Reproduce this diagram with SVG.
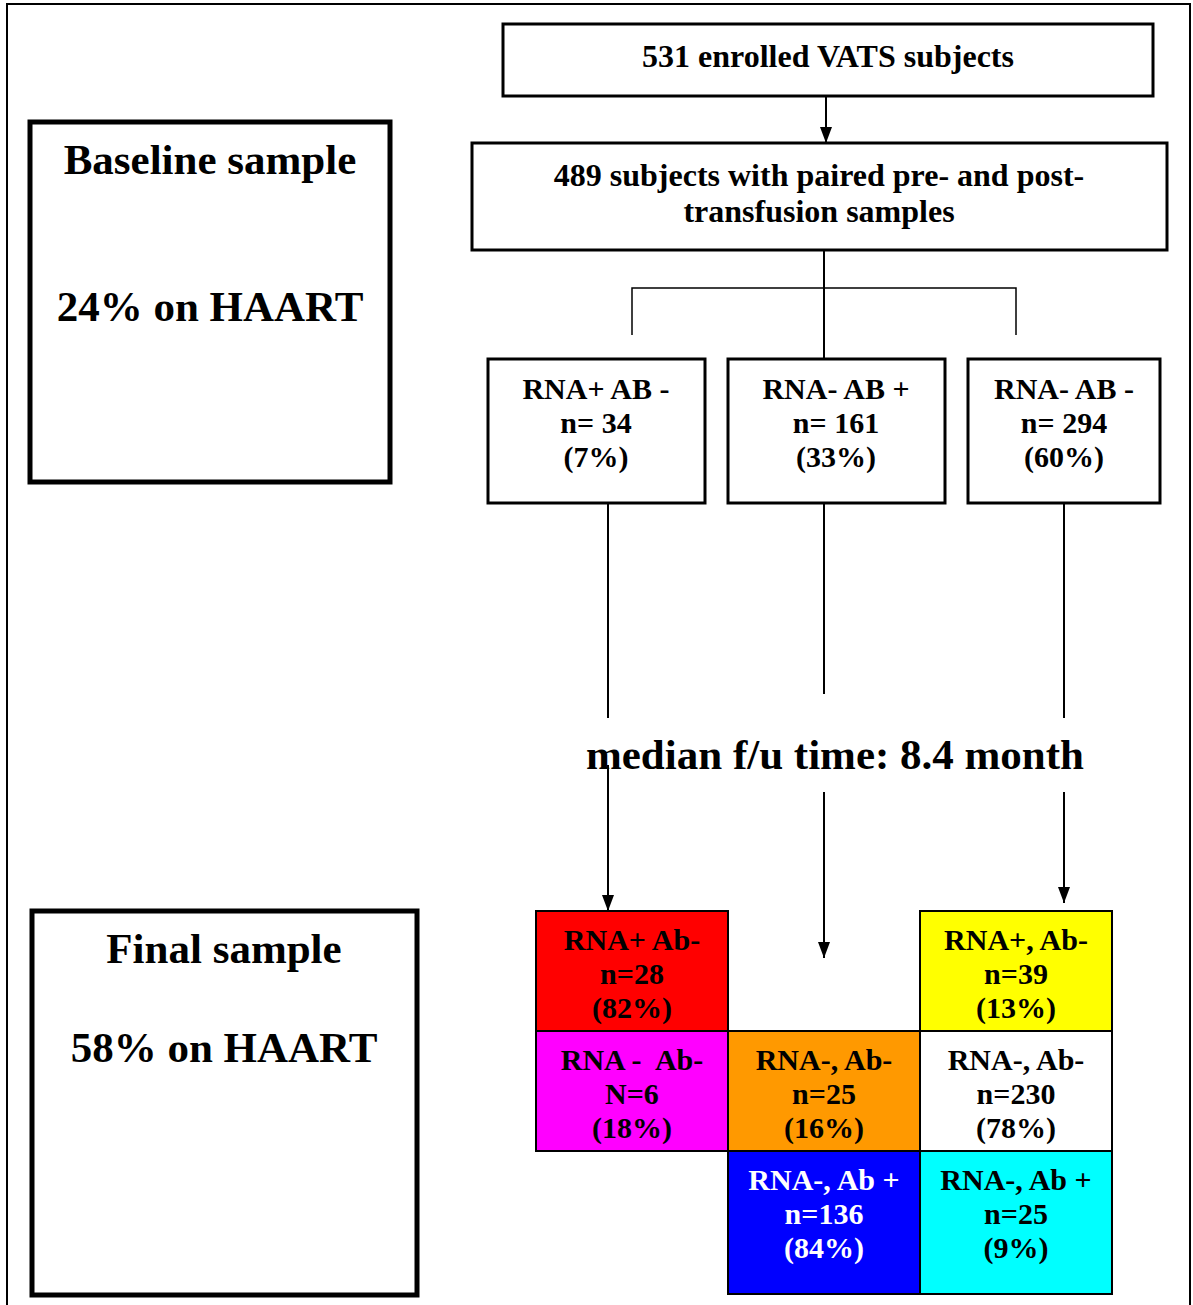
<svg xmlns="http://www.w3.org/2000/svg" width="1193" height="1305" viewBox="0 0 1193 1305">
<style>
text{font-family:"Liberation Serif","Times New Roman",serif;font-weight:bold;text-anchor:middle;fill:#000}
.box{fill:#fff;stroke:#000;stroke-width:3}
.big{fill:#fff;stroke:#000;stroke-width:5}
.cell{stroke:#000;stroke-width:2}
.t30{font-size:30px}
.t32{font-size:32px}
.t43{font-size:43px}
.ln{stroke:#000;stroke-width:2;fill:none}
.wt{fill:#fff}
</style>
<defs>
<marker id="ah" markerWidth="16" markerHeight="12" refX="16" refY="6" orient="auto" markerUnits="userSpaceOnUse" viewBox="0 0 16 12">
<path d="M0,0 L16,6 L0,12 Z" fill="#000"/>
</marker>
</defs>
<rect x="0" y="0" width="1193" height="1305" fill="#fff"/>
<rect x="7" y="4" width="1183" height="1310" fill="none" stroke="#000" stroke-width="2"/>

<g id="baseline">
<rect class="big" x="30" y="122" width="360" height="360"/>
<text class="t43" x="210" y="174">Baseline sample</text>
<text class="t43" x="210" y="321">24% on HAART</text>
</g>
<g id="final">
<rect class="big" x="32" y="911" width="385" height="384"/>
<text class="t43" x="224" y="963">Final sample</text>
<text class="t43" x="224" y="1062">58% on HAART</text>
</g>

<g id="enrolled">
<rect class="box" x="503" y="24" width="650" height="72"/>
<text class="t32" x="828" y="67">531 enrolled VATS subjects</text>
</g>
<g id="paired">
<rect class="box" x="472" y="143" width="695" height="107"/>
<text class="t32" x="819" y="186">489 subjects with paired pre- and post-</text>
<text class="t32" x="819" y="222">transfusion samples</text>
</g>

<g id="b1">
<rect class="box" x="488" y="359" width="217" height="144"/>
<text class="t30" x="596" y="399">RNA+ AB -</text>
<text class="t30" x="596" y="433">n= 34</text>
<text class="t30" x="596" y="467">(7%)</text>
</g>
<g id="b2">
<rect class="box" x="728" y="359" width="217" height="144"/>
<text class="t30" x="836" y="399">RNA- AB +</text>
<text class="t30" x="836" y="433">n= 161</text>
<text class="t30" x="836" y="467">(33%)</text>
</g>
<g id="b3">
<rect class="box" x="968" y="359" width="192" height="144"/>
<text class="t30" x="1064" y="399">RNA- AB -</text>
<text class="t30" x="1064" y="433">n= 294</text>
<text class="t30" x="1064" y="467">(60%)</text>
</g>

<g id="followup">
<text class="t43" x="835" y="769">median f/u time: 8.4 month</text>
</g>

<g id="connectors">
<line class="ln" x1="826" y1="96" x2="826" y2="143" marker-end="url(#ah)"/>
<line class="ln" x1="824" y1="250" x2="824" y2="359"/>
<polyline class="ln" points="632,335 632,288 1016,288 1016,335" style="stroke-width:1.5"/>
<line class="ln" x1="608" y1="503" x2="608" y2="718"/>
<line class="ln" x1="824" y1="503" x2="824" y2="694"/>
<line class="ln" x1="1064" y1="503" x2="1064" y2="718"/>
<line class="ln" x1="608" y1="765" x2="608" y2="911" marker-end="url(#ah)"/>
<line class="ln" x1="824" y1="792" x2="824" y2="958" marker-end="url(#ah)"/>
<line class="ln" x1="1064" y1="792" x2="1064" y2="903" marker-end="url(#ah)"/>
</g>

<g id="c-red">
<rect class="cell" x="536" y="911" width="192" height="120" fill="#ff0000"/>
<text class="t30" x="632" y="950">RNA+ Ab-</text>
<text class="t30" x="632" y="984">n=28</text>
<text class="t30" x="632" y="1018">(82%)</text>
</g>
<g id="c-yellow">
<rect class="cell" x="920" y="911" width="192" height="120" fill="#ffff00"/>
<text class="t30" x="1016" y="950">RNA+, Ab-</text>
<text class="t30" x="1016" y="984">n=39</text>
<text class="t30" x="1016" y="1018">(13%)</text>
</g>
<g id="c-magenta">
<rect class="cell" x="536" y="1031" width="192" height="120" fill="#ff00ff"/>
<text class="t30" x="632" y="1070" xml:space="preserve">RNA -  Ab-</text>
<text class="t30" x="632" y="1104">N=6</text>
<text class="t30" x="632" y="1138">(18%)</text>
</g>
<g id="c-orange">
<rect class="cell" x="728" y="1031" width="192" height="120" fill="#ff9900"/>
<text class="t30" x="824" y="1070">RNA-, Ab-</text>
<text class="t30" x="824" y="1104">n=25</text>
<text class="t30" x="824" y="1138">(16%)</text>
</g>
<g id="c-white">
<rect class="cell" x="920" y="1031" width="192" height="120" fill="#ffffff"/>
<text class="t30" x="1016" y="1070">RNA-, Ab-</text>
<text class="t30" x="1016" y="1104">n=230</text>
<text class="t30" x="1016" y="1138">(78%)</text>
</g>
<g id="c-blue">
<rect class="cell" x="728" y="1151" width="192" height="143" fill="#0000ff"/>
<text class="t30 wt" x="824" y="1190">RNA-, Ab +</text>
<text class="t30 wt" x="824" y="1224">n=136</text>
<text class="t30 wt" x="824" y="1258">(84%)</text>
</g>
<g id="c-cyan">
<rect class="cell" x="920" y="1151" width="192" height="143" fill="#00ffff"/>
<text class="t30" x="1016" y="1190">RNA-, Ab +</text>
<text class="t30" x="1016" y="1224">n=25</text>
<text class="t30" x="1016" y="1258">(9%)</text>
</g>
</svg>
